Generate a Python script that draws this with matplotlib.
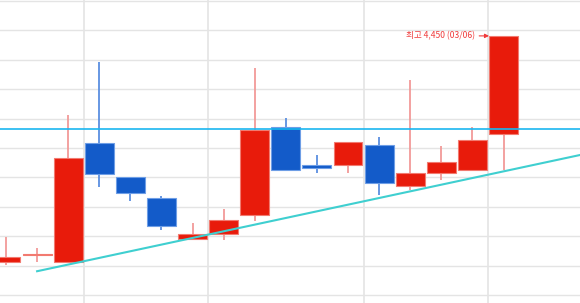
import numpy as np
import matplotlib
matplotlib.use('Agg')
from matplotlib import pyplot as plt
from matplotlib.ticker import MultipleLocator

# Daily candles (price in won)
opens = [3680, 3705, 3680, 4085, 3970, 3900, 3760, 3775, 3840, 4140, 4010, 4010, 4080, 3940, 3985, 3995, 4115]
highs = [3765, 3730, 4180, 4360, 3970, 3905, 3815, 3860, 4340, 4170, 4045, 4090, 4105, 4300, 4075, 4140, 4450]
lows = [3670, 3680, 3680, 3935, 3890, 3790, 3760, 3755, 3820, 3995, 3985, 3985, 3910, 3925, 3960, 3990, 3995]
closes = [3700, 3710, 4035, 3980, 3915, 3805, 3775, 3825, 4130, 3995, 4000, 4090, 3950, 3985, 4020, 4095, 4450]
week_breaks = [2.5, 6.5, 11.5, 15.5]
ref_price = 4135  # horizontal reference line
trend_x = [1, 18.5]
trend_y = [3650, 4046]
high_label = '최고 4,450 (03/06)'

dpi = 100
fig = plt.figure(figsize=(580 / dpi, 303 / dpi), dpi=dpi)
ax = fig.add_axes([0, 0, 1, 1])

up_body, up_edge, up_wick = '#e81b0b', '#f27a70', '#f29a98'
dn_body, dn_edge, dn_wick = '#135bc9', '#6e9ee6', '#5b8fe0'

x = np.arange(len(opens))
o = np.array(opens)
c = np.array(closes)
up = c >= o
width = 0.93

for i in x:
    wc = up_wick if up[i] else dn_wick
    ax.vlines(i, lows[i], highs[i], color=wc, lw=1.3, zorder=2)
    bot = min(o[i], c[i])
    h = max(abs(c[i] - o[i]), 4)
    ax.bar(i, h, bottom=bot, width=width,
           color=up_body if up[i] else dn_body,
           edgecolor=up_edge if up[i] else dn_edge, lw=0.8, zorder=3)

ax.axhline(ref_price, color='#1ab6f0', lw=1.2, zorder=4)
ax.plot(trend_x, trend_y, color='#3fcfd0', lw=1.5, zorder=5)

ax.annotate(high_label, xy=(16 - width / 2, highs[16]), xycoords='data',
            xytext=(-14, 0), textcoords='offset pixels', ha='right', va='center',
            fontsize=6.2, color='#f03c3c', family=['Noto Sans CJK KR', 'DejaVu Sans'],
            arrowprops=dict(arrowstyle='-|>', color='#f03c3c', lw=0.8,
                            mutation_scale=6, shrinkA=1, shrinkB=0), zorder=6)

# grid
for b in week_breaks:
    ax.axvline(b, color='#e4e4e4', lw=1.2, zorder=0)
ax.yaxis.set_major_locator(MultipleLocator(100, offset=69))
ax.grid(axis='y', color='#e4e4e4', lw=1.0, zorder=0)
ax.set_axisbelow(True)

ax.set_xlim(-0.193, 18.46)
ax.set_ylim(3542, 4572)
ax.tick_params(left=False, bottom=False, labelleft=False, labelbottom=False)
for s in ax.spines.values():
    s.set_visible(False)

fig.savefig('out.png', dpi=dpi)
